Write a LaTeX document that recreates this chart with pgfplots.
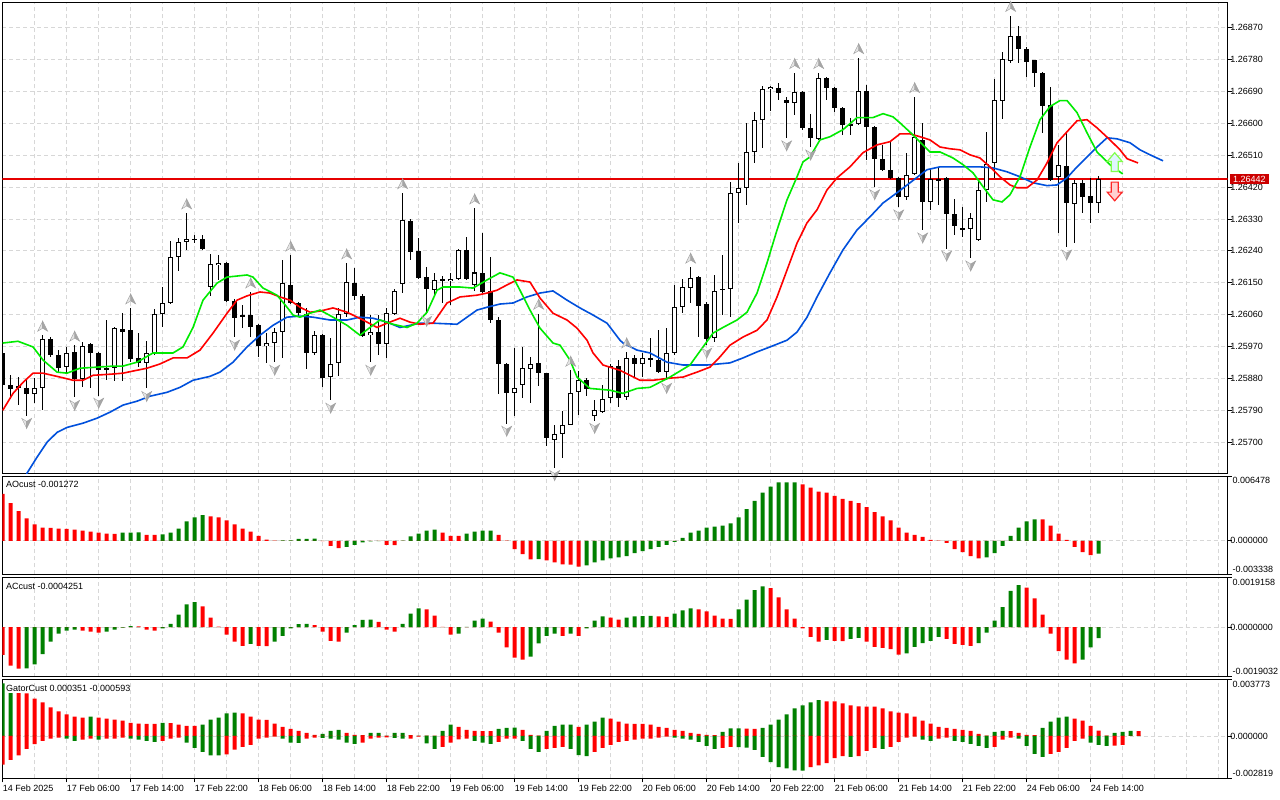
\documentclass[border=0pt]{standalone}
\usepackage{pgfplots}
\pgfplotsset{compat=1.18}
\usepackage{pgfplotstable}
\usepackage{fontspec}
\setmainfont{Liberation Sans}
\definecolor{jaw}{RGB}{0,80,220}
\definecolor{teeth}{RGB}{255,0,0}
\definecolor{lips}{RGB}{0,235,0}
\definecolor{hgreen}{RGB}{0,128,0}
\definecolor{hred}{RGB}{255,0,0}
\definecolor{pline}{RGB}{230,0,0}
\definecolor{gridc}{RGB}{215,215,215}
\definecolor{pricebox}{RGB}{204,0,0}
\newcommand{\tf}{\fontsize{9}{11}\selectfont}

\pgfdeclareplotmark{fup}{%
  \pgfsetlinewidth{0.4pt}\pgfsetstrokecolor{gray!75}%
  \pgfsetfillcolor{gray!20}%
  \pgfpathmoveto{\pgfqpoint{0pt}{14pt}}\pgfpathlineto{\pgfqpoint{-5pt}{4pt}}\pgfpathlineto{\pgfqpoint{0pt}{7pt}}\pgfpathclose\pgfusepath{fill,stroke}%
  \pgfsetfillcolor{gray!70}%
  \pgfpathmoveto{\pgfqpoint{0pt}{14pt}}\pgfpathlineto{\pgfqpoint{5pt}{4pt}}\pgfpathlineto{\pgfqpoint{0pt}{7pt}}\pgfpathclose\pgfusepath{fill,stroke}}
\pgfdeclareplotmark{fdn}{%
  \pgfsetlinewidth{0.4pt}\pgfsetstrokecolor{gray!75}%
  \pgfsetfillcolor{gray!20}%
  \pgfpathmoveto{\pgfqpoint{0pt}{-13pt}}\pgfpathlineto{\pgfqpoint{-5pt}{-3pt}}\pgfpathlineto{\pgfqpoint{0pt}{-6pt}}\pgfpathclose\pgfusepath{fill,stroke}%
  \pgfsetfillcolor{gray!70}%
  \pgfpathmoveto{\pgfqpoint{0pt}{-13pt}}\pgfpathlineto{\pgfqpoint{5pt}{-3pt}}\pgfpathlineto{\pgfqpoint{0pt}{-6pt}}\pgfpathclose\pgfusepath{fill,stroke}}
\pgfdeclareplotmark{bigup}{%
  \pgfsetlinewidth{1.2pt}\pgfsetstrokecolor{green!60!lime!70!white}%
  \pgfsetfillcolor{cyan!12}%
  \pgfpathmoveto{\pgfqpoint{0pt}{9.5pt}}\pgfpathlineto{\pgfqpoint{7.5pt}{0.8pt}}\pgfpathlineto{\pgfqpoint{3.5pt}{0.8pt}}%
  \pgfpathlineto{\pgfqpoint{3.5pt}{-9.2pt}}\pgfpathlineto{\pgfqpoint{-3.5pt}{-9.2pt}}\pgfpathlineto{\pgfqpoint{-3.5pt}{0.8pt}}%
  \pgfpathlineto{\pgfqpoint{-7.5pt}{0.8pt}}\pgfpathclose\pgfusepath{fill,stroke}}
\pgfdeclareplotmark{bigdn}{%
  \pgfsetlinewidth{1.2pt}\pgfsetstrokecolor{red!85}%
  \pgfsetfillcolor{red!18}%
  \pgfpathmoveto{\pgfqpoint{0pt}{-9.5pt}}\pgfpathlineto{\pgfqpoint{7.5pt}{-0.8pt}}\pgfpathlineto{\pgfqpoint{3.5pt}{-0.8pt}}%
  \pgfpathlineto{\pgfqpoint{3.5pt}{9.2pt}}\pgfpathlineto{\pgfqpoint{-3.5pt}{9.2pt}}\pgfpathlineto{\pgfqpoint{-3.5pt}{-0.8pt}}%
  \pgfpathlineto{\pgfqpoint{-7.5pt}{-0.8pt}}\pgfpathclose\pgfusepath{fill,stroke}}

\pgfplotstableread{
i o h l c
0 1.25952 1.25960 1.25852 1.25861
1 1.25861 1.25889 1.25824 1.25852
2 1.25860 1.25884 1.25805 1.25855
3 1.25855 1.25881 1.25776 1.25838
4 1.25838 1.25881 1.25810 1.25855
5 1.25855 1.26002 1.25790 1.25994
6 1.25994 1.25997 1.25943 1.25949
7 1.25946 1.25960 1.25898 1.25912
8 1.25912 1.25969 1.25895 1.25952
9 1.25954 1.25974 1.25827 1.25878
10 1.25881 1.25983 1.25855 1.25974
11 1.25977 1.25980 1.25855 1.25952
12 1.25952 1.25955 1.25833 1.25906
13 1.25912 1.26045 1.25875 1.25906
14 1.25909 1.26027 1.25875 1.26024
15 1.26022 1.26067 1.25875 1.26013
16 1.26016 1.26079 1.25926 1.25935
17 1.25938 1.26008 1.25912 1.25926
18 1.25926 1.25986 1.25852 1.25952
19 1.25952 1.26076 1.25946 1.26062
20 1.26062 1.26138 1.26027 1.26093
21 1.26093 1.26268 1.26090 1.26223
22 1.26223 1.26279 1.26186 1.26265
23 1.26265 1.26347 1.26243 1.26274
24 1.26273 1.26285 1.26262 1.26274
25 1.26274 1.26285 1.26243 1.26245
26 1.26138 1.26231 1.26115 1.26203
27 1.26200 1.26228 1.26158 1.26206
28 1.26206 1.26211 1.26096 1.26101
29 1.26101 1.26104 1.25997 1.26053
30 1.26059 1.26087 1.26022 1.26053
31 1.26059 1.26124 1.25997 1.26027
32 1.26030 1.26033 1.25940 1.25971
33 1.25971 1.26008 1.25926 1.25980
34 1.25980 1.26022 1.25926 1.26011
35 1.26011 1.26217 1.25940 1.26149
36 1.26144 1.26228 1.26090 1.26093
37 1.26093 1.26098 1.26059 1.26067
38 1.26064 1.26079 1.25909 1.25952
39 1.25952 1.26016 1.25946 1.26002
40 1.26002 1.26005 1.25855 1.25881
41 1.25884 1.25994 1.25819 1.25921
42 1.25924 1.26081 1.25889 1.26062
43 1.26062 1.26206 1.26053 1.26152
44 1.26149 1.26191 1.26101 1.26113
45 1.26115 1.26118 1.25997 1.26002
46 1.26002 1.26059 1.25926 1.26011
47 1.26011 1.26059 1.25946 1.25977
48 1.25977 1.26079 1.25938 1.26064
49 1.26064 1.26135 1.26062 1.26127
50 1.26147 1.26404 1.26121 1.26327
51 1.26324 1.26330 1.26214 1.26237
52 1.26240 1.26276 1.26160 1.26163
53 1.26169 1.26197 1.26064 1.26135
54 1.26132 1.26178 1.26115 1.26158
55 1.26161 1.26169 1.26093 1.26158
56 1.26155 1.26178 1.26087 1.26163
57 1.26161 1.26246 1.26158 1.26243
58 1.26243 1.26279 1.26158 1.26163
59 1.26144 1.26361 1.26129 1.26180
60 1.26178 1.26291 1.26121 1.26124
61 1.26127 1.26223 1.26036 1.26045
62 1.26045 1.26053 1.25838 1.25921
63 1.25921 1.25924 1.25754 1.25841
64 1.25841 1.25966 1.25776 1.25855
65 1.25861 1.25969 1.25827 1.25909
66 1.25909 1.25941 1.25813 1.25921
67 1.25924 1.26064 1.25861 1.25895
68 1.25895 1.25898 1.25691 1.25711
69 1.25708 1.25748 1.25629 1.25725
70 1.25725 1.25790 1.25657 1.25751
71 1.25751 1.25903 1.25748 1.25841
72 1.25841 1.25900 1.25776 1.25875
73 1.25878 1.25881 1.25833 1.25852
74 1.25776 1.25819 1.25762 1.25793
75 1.25785 1.25861 1.25782 1.25824
76 1.25827 1.25921 1.25810 1.25918
77 1.25918 1.25932 1.25799 1.25827
78 1.25827 1.25955 1.25819 1.25938
79 1.25938 1.25946 1.25884 1.25921
80 1.25921 1.25952 1.25884 1.25938
81 1.25938 1.25994 1.25912 1.25932
82 1.25932 1.26016 1.25895 1.25898
83 1.25898 1.26022 1.25875 1.25952
84 1.25952 1.26144 1.25949 1.26081
85 1.26081 1.26163 1.26067 1.26138
86 1.26138 1.26194 1.26093 1.26166
87 1.26166 1.26169 1.25997 1.26084
88 1.26093 1.26096 1.25974 1.25994
89 1.25994 1.26172 1.25983 1.26127
90 1.26132 1.26228 1.26059 1.26135
91 1.26132 1.26435 1.26053 1.26404
92 1.26404 1.26488 1.26319 1.26418
93 1.26418 1.26601 1.26370 1.26519
94 1.26519 1.26632 1.26488 1.26610
95 1.26610 1.26706 1.26531 1.26697
96 1.26697 1.26706 1.26635 1.26703
97 1.26700 1.26714 1.26666 1.26686
98 1.26666 1.26675 1.26559 1.26658
99 1.26658 1.26743 1.26624 1.26689
100 1.26689 1.26692 1.26582 1.26587
101 1.26587 1.26627 1.26533 1.26559
102 1.26556 1.26743 1.26553 1.26729
103 1.26729 1.26731 1.26666 1.26700
104 1.26700 1.26703 1.26632 1.26644
105 1.26644 1.26647 1.26567 1.26596
106 1.26599 1.26616 1.26567 1.26593
107 1.26599 1.26785 1.26596 1.26692
108 1.26692 1.26709 1.26497 1.26590
109 1.26590 1.26593 1.26421 1.26500
110 1.26500 1.26539 1.26466 1.26469
111 1.26469 1.26548 1.26443 1.26446
112 1.26446 1.26449 1.26364 1.26392
113 1.26392 1.26517 1.26384 1.26454
114 1.26457 1.26675 1.26454 1.26562
115 1.26553 1.26601 1.26299 1.26378
116 1.26378 1.26474 1.26356 1.26443
117 1.26443 1.26477 1.26370 1.26440
118 1.26446 1.26449 1.26248 1.26344
119 1.26344 1.26387 1.26285 1.26310
120 1.26305 1.26364 1.26279 1.26299
121 1.26302 1.26347 1.26220 1.26333
122 1.26271 1.26440 1.26268 1.26412
123 1.26412 1.26576 1.26378 1.26486
124 1.26488 1.26726 1.26446 1.26666
125 1.26663 1.26802 1.26613 1.26782
126 1.26777 1.26904 1.26771 1.26847
127 1.26847 1.26876 1.26771 1.26811
128 1.26811 1.26816 1.26731 1.26774
129 1.26777 1.26780 1.26703 1.26743
130 1.26743 1.26745 1.26573 1.26649
131 1.26652 1.26703 1.26437 1.26440
132 1.26449 1.26539 1.26290 1.26483
133 1.26480 1.26576 1.26251 1.26375
134 1.26375 1.26440 1.26262 1.26432
135 1.26432 1.26440 1.26347 1.26392
136 1.26395 1.26446 1.26319 1.26375
137 1.26375 1.26452 1.26347 1.26442
}\candles

\pgfplotstableread{
i v g
0 0.00470 0
1 0.00378 0
2 0.00297 0
3 0.00225 0
4 0.00164 0
5 0.00133 0
6 0.00131 0
7 0.00123 0
8 0.00121 0
9 0.00112 0
10 0.00102 0
11 0.00092 0
12 0.00082 0
13 0.00072 0
14 0.00071 0
15 0.00082 1
16 0.00083 1
17 0.00084 1
18 0.00061 0
19 0.00060 0
20 0.00065 1
21 0.00082 1
22 0.00123 1
23 0.00194 1
24 0.00235 1
25 0.00256 1
26 0.00245 0
27 0.00235 0
28 0.00204 0
29 0.00164 0
30 0.00123 0
31 0.00092 0
32 0.00051 0
33 0.00013 0
34 0.00003 0
35 0.00004 1
36 0.00005 1
37 0.00020 1
38 0.00021 1
39 0.00022 1
40 -0.00003 0
41 -0.00051 0
42 -0.00072 0
43 -0.00061 1
44 -0.00041 1
45 -0.00015 1
46 -0.00005 1
47 -0.00003 1
48 -0.00041 0
49 -0.00042 0
50 0.00003 1
51 0.00044 1
52 0.00072 1
53 0.00102 1
54 0.00112 1
55 0.00082 0
56 0.00051 0
57 0.00050 0
58 0.00072 1
59 0.00092 1
60 0.00102 1
61 0.00103 1
62 0.00061 0
63 0.00003 0
64 -0.00082 0
65 -0.00133 0
66 -0.00184 0
67 -0.00183 1
68 -0.00194 0
69 -0.00215 0
70 -0.00235 0
71 -0.00236 0
72 -0.00256 0
73 -0.00245 1
74 -0.00215 1
75 -0.00194 1
76 -0.00174 1
77 -0.00164 1
78 -0.00153 1
79 -0.00123 1
80 -0.00102 1
81 -0.00082 1
82 -0.00061 1
83 -0.00041 1
84 -0.00010 1
85 0.00031 1
86 0.00082 1
87 0.00102 1
88 0.00133 1
89 0.00143 1
90 0.00153 1
91 0.00174 1
92 0.00235 1
93 0.00317 1
94 0.00399 1
95 0.00481 1
96 0.00542 1
97 0.00583 1
98 0.00584 1
99 0.00585 1
100 0.00565 0
101 0.00532 0
102 0.00491 0
103 0.00481 0
104 0.00450 0
105 0.00419 0
106 0.00399 0
107 0.00378 0
108 0.00337 0
109 0.00286 0
110 0.00245 0
111 0.00204 0
112 0.00133 0
113 0.00082 0
114 0.00061 0
115 0.00041 0
116 0.00010 0
117 0.00003 0
118 -0.00020 0
119 -0.00082 0
120 -0.00112 0
121 -0.00153 0
122 -0.00174 0
123 -0.00164 1
124 -0.00123 1
125 -0.00051 1
126 0.00051 1
127 0.00133 1
128 0.00194 1
129 0.00215 1
130 0.00214 0
131 0.00153 0
132 0.00072 0
133 0.00010 0
134 -0.00061 0
135 -0.00112 0
136 -0.00143 0
137 -0.001272 1
}\aotab

\pgfplotstableread{
i v g
0 -0.00106 0
1 -0.00148 0
2 -0.00159 0
3 -0.00158 1
4 -0.00143 1
5 -0.00104 1
6 -0.00056 1
7 -0.00025 1
8 -0.00013 1
9 -0.00009 1
10 -0.00013 0
11 -0.00017 0
12 -0.00021 0
13 -0.00017 1
14 -0.00009 1
15 -0.00002 1
16 0.00004 1
17 0.00003 0
18 -0.00009 0
19 -0.00013 0
20 -0.00005 1
21 0.00013 1
22 0.00048 1
23 0.00088 1
24 0.00096 1
25 0.00080 0
26 0.00037 0
27 0.00002 0
28 -0.00029 0
29 -0.00056 0
30 -0.00072 0
31 -0.00064 1
32 -0.00072 0
33 -0.00073 0
34 -0.00056 1
35 -0.00033 1
36 -0.00005 1
37 0.00012 1
38 0.00013 1
39 0.00008 0
40 -0.00017 0
41 -0.00053 0
42 -0.00056 0
43 -0.00021 1
44 0.00008 1
45 0.00028 1
46 0.00029 1
47 0.00020 0
48 -0.00009 0
49 -0.00017 0
50 0.00013 1
51 0.00052 1
52 0.00072 1
53 0.00068 0
54 0.00044 0
55 0.00001 0
56 -0.00029 0
57 -0.00025 1
58 0.00001 1
59 0.00025 1
60 0.00033 1
61 0.00021 0
62 -0.00021 0
63 -0.00078 0
64 -0.00117 0
65 -0.00125 0
66 -0.00113 1
67 -0.00062 1
68 -0.00033 1
69 -0.00025 1
70 -0.00033 0
71 -0.00025 1
72 -0.00033 0
73 -0.00005 1
74 0.00025 1
75 0.00041 1
76 0.00037 0
77 0.00029 0
78 0.00037 1
79 0.00041 1
80 0.00042 1
81 0.00043 1
82 0.00041 0
83 0.00040 0
84 0.00052 1
85 0.00065 1
86 0.00072 1
87 0.00068 0
88 0.00061 0
89 0.00044 0
90 0.00033 0
91 0.00032 0
92 0.00068 1
93 0.00106 1
94 0.00142 1
95 0.00157 1
96 0.00150 0
97 0.00114 0
98 0.00068 0
99 0.00033 0
100 -0.00005 0
101 -0.00037 0
102 -0.00056 0
103 -0.00049 1
104 -0.00053 0
105 -0.00054 0
106 -0.00045 1
107 -0.00041 1
108 -0.00056 0
109 -0.00076 0
110 -0.00080 0
111 -0.00084 0
112 -0.00105 0
113 -0.00101 1
114 -0.00076 1
115 -0.00061 1
116 -0.00053 1
117 -0.00037 1
118 -0.00045 0
119 -0.00064 0
120 -0.00068 0
121 -0.00072 0
122 -0.00061 1
123 -0.00021 1
124 0.00025 1
125 0.00077 1
126 0.00139 1
127 0.00162 1
128 0.00152 0
129 0.00111 0
130 0.00048 0
131 -0.00025 0
132 -0.00092 0
133 -0.00125 0
134 -0.00139 0
135 -0.00125 1
136 -0.00078 1
137 -0.0004251 1
}\actab

\pgfplotstableread{
i up ug lo lg
0 0.00350 1 -0.00190 0
1 0.00285 1 -0.00159 0
2 0.00285 0 -0.00129 0
3 0.00284 0 -0.00086 0
4 0.00249 0 -0.00054 0
5 0.00224 0 -0.00032 0
6 0.00190 0 -0.00018 0
7 0.00163 0 -0.00011 0
8 0.00143 0 -0.00018 1
9 0.00129 0 -0.00032 1
10 0.00122 0 -0.00025 0
11 0.00129 1 -0.00018 0
12 0.00122 0 -0.00025 1
13 0.00116 0 -0.00018 0
14 0.00109 0 -0.00017 0
15 0.00102 0 -0.00011 0
16 0.00088 0 -0.00018 1
17 0.00082 0 -0.00025 1
18 0.00081 0 -0.00032 1
19 0.00080 0 -0.00039 1
20 0.00088 1 -0.00032 0
21 0.00086 0 -0.00018 0
22 0.00075 0 -0.00011 0
23 0.00068 0 -0.00045 1
24 0.00067 0 -0.00079 1
25 0.00075 1 -0.00106 1
26 0.00109 1 -0.00129 1
27 0.00122 1 -0.00130 1
28 0.00150 1 -0.00122 0
29 0.00156 1 -0.00091 0
30 0.00150 0 -0.00072 0
31 0.00129 0 -0.00059 0
32 0.00109 0 -0.00018 0
33 0.00107 0 -0.00011 0
34 0.00082 0 -0.00005 0
35 0.00061 0 -0.00018 1
36 0.00048 0 -0.00045 1
37 0.00034 0 -0.00046 1
38 0.00020 0 -0.00018 0
39 0.00007 0 -0.00011 0
40 0.00014 1 -0.00012 1
41 0.00034 1 -0.00018 1
42 0.00041 1 -0.00025 1
43 0.00020 0 -0.00045 1
44 0.00007 0 -0.00052 1
45 0.00006 0 -0.00045 0
46 0.00020 1 -0.00018 0
47 0.00021 1 -0.00011 0
48 0.00001 0 -0.00010 0
49 0.00020 1 -0.00012 1
50 0.00021 1 -0.00018 1
51 0.00005 0 -0.00017 0
52 0.00001 0 -0.00005 0
53 0.00003 1 -0.00050 1
54 0.00001 0 -0.00086 1
55 0.00034 1 -0.00072 0
56 0.00075 1 -0.00045 0
57 0.00061 0 -0.00023 0
58 0.00041 0 -0.00018 0
59 0.00034 0 -0.00032 1
60 0.00033 0 -0.00045 1
61 0.00032 0 -0.00052 1
62 0.00048 1 -0.00039 0
63 0.00054 1 -0.00018 0
64 0.00055 1 -0.00017 0
65 0.00041 0 -0.00032 1
66 0.00007 0 -0.00086 1
67 0.00003 0 -0.00106 1
68 0.00034 1 -0.00086 0
69 0.00068 1 -0.00079 0
70 0.00075 1 -0.00072 0
71 0.00076 1 -0.00086 1
72 0.00061 0 -0.00127 1
73 0.00075 1 -0.00134 1
74 0.00095 1 -0.00106 0
75 0.00122 1 -0.00079 0
76 0.00115 0 -0.00059 0
77 0.00095 0 -0.00039 0
78 0.00082 0 -0.00032 0
79 0.00081 0 -0.00025 0
80 0.00080 0 -0.00018 0
81 0.00075 0 -0.00017 0
82 0.00061 0 -0.00011 0
83 0.00054 0 -0.00005 0
84 0.00041 0 -0.00011 1
85 0.00034 0 -0.00018 1
86 0.00020 0 -0.00025 1
87 0.00014 0 -0.00039 1
88 0.00007 0 -0.00066 1
89 0.00006 0 -0.00086 1
90 0.00027 1 -0.00079 0
91 0.00050 1 -0.00072 0
92 0.00051 1 -0.00075 1
93 0.00049 0 -0.00077 1
94 0.00048 0 -0.00093 1
95 0.00054 1 -0.00140 1
96 0.00075 1 -0.00174 1
97 0.00109 1 -0.00208 1
98 0.00143 1 -0.00215 1
99 0.00183 1 -0.00229 1
100 0.00204 1 -0.00231 1
101 0.00224 1 -0.00208 0
102 0.00238 1 -0.00195 0
103 0.00231 0 -0.00181 0
104 0.00230 0 -0.00147 0
105 0.00217 0 -0.00134 0
106 0.00204 0 -0.00140 1
107 0.00197 0 -0.00134 0
108 0.00196 0 -0.00100 0
109 0.00195 0 -0.00079 0
110 0.00183 0 -0.00086 1
111 0.00163 0 -0.00072 0
112 0.00156 0 -0.00039 0
113 0.00150 0 -0.00011 0
114 0.00129 0 -0.00005 0
115 0.00102 0 -0.00025 1
116 0.00082 0 -0.00032 1
117 0.00061 0 -0.00018 0
118 0.00054 0 -0.00011 0
119 0.00048 0 -0.00032 1
120 0.00041 0 -0.00039 1
121 0.00034 0 -0.00052 1
122 0.00014 0 -0.00066 1
123 0.00002 0 -0.00079 1
124 0.00027 1 -0.00072 0
125 0.00034 1 -0.00025 0
126 0.00033 0 -0.00011 0
127 0.00020 0 -0.00018 1
128 0.00007 0 -0.00066 1
129 0.00005 0 -0.00120 1
130 0.00054 1 -0.00140 1
131 0.00095 1 -0.00120 0
132 0.00122 1 -0.00106 0
133 0.00129 1 -0.00079 0
134 0.00115 0 -0.00032 0
135 0.00102 0 -0.00018 0
136 0.00068 0 -0.00045 1
137 0.000351 0 -0.000593 1
138 0.00003 0 -0.00066 1
139 0.00020 1 -0.00065 0
140 0.00027 1 -0.00059 0
141 0.00034 1 0 0
142 0.00033 0 0 0
}\gatortab

\pgfplotstableread{
x y
-0.025 1.26442
40 1.26442
80 1.26442
120 1.26442
153.125 1.26442
}\pricetab

\pgfplotsset{
  panel/.style={
    scale only axis, width=1225.2pt,
    xmin=-0.025, xmax=153.125,
    axis line style={line width=0.8pt, black},
    xtick={4,8,...,152}, xticklabels={}, xtick style={draw=none},
    xmajorgrids,
    grid style={gridc, line width=0.8pt, dash pattern=on 4pt off 3pt},
    ytick pos=right, yticklabel pos=right, tick align=outside, major tick length=4pt,
    ytick style={black, line width=0.8pt},
    yticklabel style={font=\tf, inner sep=0pt, xshift=-1.5pt},
    scaled ticks=false,
    /pgf/number format/assume math mode=true,
    clip=true,
  },
  hist/.style={ybar, bar width=4pt, bar shift=0pt, draw=none, forget plot},
}

\begin{document}
\begin{tikzpicture}
\fill[white] (0,0) rectangle (1280pt,-800pt);
\useasboundingbox (0,0) rectangle (1280pt,-800pt);

% ---------------- main price panel ----------------
\begin{axis}[panel, at={(2.5pt,-2pt)}, anchor=north west, height=471.5pt,
  ymin=1.25612, ymax=1.26942, ymajorgrids,
  ytick={1.25700,1.25790,1.25880,1.25970,1.26060,1.26150,1.26240,1.26330,1.26420,1.26510,1.26600,1.26690,1.26780,1.26870},
  yticklabels={1.25700,1.25790,1.25880,1.25970,1.26060,1.26150,1.26240,1.26330,1.26420,1.26510,1.26600,1.26690,1.26780,1.26870},
  after end axis/.code={
    \node[fill=pricebox, text=white, font=\tf, inner xsep=3.5pt, inner ysep=1.8pt, anchor=west, xshift=1.6pt] at (axis cs:153.125,1.26442) {1.26442};
  }]
% current price line (behind the candles)
\addplot[pline, line width=1.6pt, forget plot] table[x=x, y=y] {\pricetab};
% wicks
\addplot[draw=none, mark=none, forget plot, error bars/.cd, y dir=both, y explicit, error mark=none,
  error bar style={draw=black, line width=1pt, solid}]
  table[x=i, y expr={(\thisrow{h}+\thisrow{l})/2}, y error expr={(\thisrow{h}-\thisrow{l})/2}] {\candles};
% bodies (outline / bearish fill)
\addplot[draw=none, mark=none, forget plot, error bars/.cd, y dir=both, y explicit, error mark=none,
  error bar style={draw=black, line width=5pt, solid}]
  table[x=i, y expr={(\thisrow{o}+\thisrow{c})/2}, y error expr={max(abs(\thisrow{c}-\thisrow{o})/2,0.0000142)}] {\candles};
% bullish interior
\addplot[draw=none, mark=none, forget plot, error bars/.cd, y dir=both, y explicit, error mark=none,
  error bar style={draw=white, line width=3pt, solid}]
  table[x=i, y expr={(\thisrow{o}+\thisrow{c})/2}, y error expr={max((\thisrow{c}-\thisrow{o})/2-0.0000282,0)}] {\candles};
% Alligator jaw
\addplot[jaw, line width=1.6pt, forget plot] coordinates {(2.16,1.25564)(3.04,1.25613)(4.29,1.25658)(5.54,1.25700)(6.79,1.25728)(8.04,1.25742)(10.04,1.25754)(11.79,1.25768)(13.41,1.25785)(15.04,1.25805)(16.79,1.25816)(18.41,1.25830)(20.54,1.25841)(22.16,1.25855)(23.79,1.25875)(25.91,1.25886)(27.16,1.25898)(28.79,1.25926)(30.54,1.25969)(32.16,1.26002)(33.79,1.26030)(35.54,1.26053)(37.16,1.26056)(38.79,1.26053)(40.91,1.26045)(43.04,1.26045)(44.66,1.26053)(46.29,1.26050)(48.04,1.26039)(49.66,1.26024)(52.16,1.26036)(53.79,1.26036)(56.79,1.26033)(58.04,1.26053)(59.29,1.26073)(60.54,1.26081)(62.16,1.26090)(63.79,1.26093)(65.54,1.26110)(67.16,1.26121)(68.79,1.26127)(70.54,1.26101)(72.16,1.26079)(73.79,1.26059)(75.54,1.26036)(77.16,1.25988)(77.54,1.25980)(79.29,1.25960)(80.91,1.25952)(83.04,1.25926)(85.04,1.25918)(88.04,1.25918)(90.91,1.25924)(92.54,1.25938)(94.29,1.25955)(95.91,1.25969)(98.04,1.25988)(99.29,1.26011)(100.54,1.26053)(101.79,1.26110)(103.41,1.26178)(105.04,1.26243)(106.79,1.26299)(108.41,1.26336)(110.04,1.26375)(111.79,1.26404)(113.41,1.26432)(115.54,1.26469)(117.16,1.26477)(119.29,1.26477)(122.16,1.26477)(123.79,1.26474)(125.54,1.26463)(127.16,1.26449)(128.79,1.26432)(130.54,1.26424)(131.79,1.26426)(133.04,1.26446)(134.29,1.26477)(135.54,1.26505)(136.79,1.26533)(138.04,1.26559)(139.29,1.26556)(140.91,1.26545)(142.16,1.26525)(143.41,1.26511)(145.04,1.26494)};
% Alligator teeth
\addplot[teeth, line width=1.6pt, forget plot] coordinates {(0,1.25790)(1.29,1.25838)(2.54,1.25869)(3.79,1.25895)(5.04,1.25895)(7.16,1.25884)(8.79,1.25875)(10.04,1.25875)(11.29,1.25889)(13.41,1.25892)(15.04,1.25895)(16.29,1.25901)(18.04,1.25909)(19.66,1.25921)(21.29,1.25938)(23.04,1.25938)(24.66,1.25960)(26.29,1.26008)(28.04,1.26064)(29.29,1.26101)(30.54,1.26113)(32.16,1.26124)(33.41,1.26121)(34.66,1.26110)(35.91,1.26101)(37.16,1.26081)(38.41,1.26067)(39.66,1.26070)(41.29,1.26079)(43.04,1.26067)(45.04,1.26045)(46.79,1.26024)(48.04,1.26036)(49.66,1.26050)(50.91,1.26039)(52.16,1.26033)(53.79,1.26036)(55.54,1.26093)(57.16,1.26110)(59.29,1.26115)(60.54,1.26121)(61.79,1.26129)(63.04,1.26144)(64.29,1.26158)(65.91,1.26152)(67.16,1.26107)(68.79,1.26064)(70.54,1.26045)(71.79,1.26022)(73.04,1.25988)(73.79,1.25952)(75.04,1.25918)(77.16,1.25903)(79.66,1.25875)(81.29,1.25875)(83.41,1.25881)(85.04,1.25884)(86.79,1.25898)(88.41,1.25912)(89.66,1.25941)(90.91,1.25974)(92.54,1.25997)(94.29,1.26016)(95.54,1.26045)(96.79,1.26110)(98.04,1.26186)(99.29,1.26262)(100.54,1.26319)(101.79,1.26356)(103.04,1.26412)(104.29,1.26446)(105.91,1.26477)(107.54,1.26517)(109.29,1.26539)(110.91,1.26548)(112.16,1.26570)(113.41,1.26570)(114.66,1.26562)(115.91,1.26553)(117.16,1.26533)(118.41,1.26528)(119.66,1.26525)(120.91,1.26511)(122.16,1.26502)(123.41,1.26477)(124.66,1.26449)(125.91,1.26426)(126.79,1.26418)(128.04,1.26418)(129.29,1.26440)(130.54,1.26488)(131.79,1.26545)(133.04,1.26576)(134.29,1.26607)(135.54,1.26610)(136.79,1.26587)(138.41,1.26553)(139.66,1.26525)(140.54,1.26500)(141.91,1.26488)};
% Alligator lips
\addplot[lips, line width=1.6pt, forget plot] coordinates {(0,1.25980)(1.91,1.25985)(3.79,1.25969)(5.04,1.25932)(6.79,1.25898)(8.04,1.25895)(9.66,1.25909)(11.79,1.25912)(13.79,1.25915)(15.04,1.25915)(16.79,1.25926)(18.79,1.25952)(21.29,1.25952)(22.54,1.25969)(23.79,1.26024)(25.04,1.26101)(26.79,1.26149)(28.04,1.26166)(30.54,1.26172)(31.29,1.26166)(32.54,1.26135)(34.29,1.26115)(35.54,1.26081)(36.29,1.26059)(37.16,1.26053)(38.41,1.26064)(39.66,1.26073)(41.29,1.26053)(43.04,1.26030)(44.66,1.26002)(45.91,1.26024)(47.16,1.26045)(48.79,1.26033)(50.54,1.26024)(51.79,1.26036)(53.04,1.26067)(54.29,1.26129)(55.04,1.26138)(57.16,1.26138)(58.79,1.26135)(60.54,1.26158)(62.16,1.26178)(63.79,1.26166)(64.66,1.26129)(65.91,1.26073)(67.16,1.26022)(68.79,1.25980)(69.66,1.25974)(70.91,1.25932)(71.79,1.25884)(73.41,1.25852)(75.91,1.25847)(77.54,1.25838)(79.29,1.25852)(80.91,1.25855)(83.41,1.25884)(85.91,1.25918)(87.54,1.25969)(88.79,1.26008)(90.04,1.26024)(91.79,1.26045)(93.04,1.26067)(94.29,1.26121)(95.54,1.26206)(96.79,1.26299)(98.04,1.26384)(99.29,1.26449)(100.04,1.26491)(100.91,1.26505)(102.16,1.26553)(103.41,1.26562)(105.04,1.26582)(106.79,1.26616)(108.79,1.26616)(110.04,1.26627)(111.29,1.26618)(112.16,1.26601)(113.79,1.26567)(115.91,1.26519)(117.16,1.26519)(118.79,1.26502)(120.04,1.26483)(121.29,1.26460)(122.54,1.26421)(123.79,1.26384)(124.91,1.26378)(125.91,1.26398)(127.16,1.26449)(128.41,1.26533)(129.66,1.26610)(130.91,1.26647)(132.16,1.26664)(133.04,1.26664)(134.29,1.26630)(135.54,1.26573)(136.79,1.26519)(138.41,1.26483)(140,1.26457)};
% fractals
\addplot[only marks, mark=fup, forget plot] coordinates {(5,1.26002)(9,1.25974)(16,1.26079)(23,1.26347)(31,1.26124)(36,1.26228)(43,1.26206)(50,1.26404)(59,1.26361)(67,1.26064)(71,1.25903)(78,1.25955)(86,1.26194)(99,1.26743)(102,1.26743)(107,1.26785)(114,1.26675)(126,1.26904)};
\addplot[only marks, mark=fdn, forget plot] coordinates {(3,1.25776)(9,1.25827)(12,1.25833)(18,1.25852)(29,1.25997)(34,1.25926)(41,1.25819)(46,1.25926)(53,1.26064)(63,1.25754)(69,1.25629)(74,1.25762)(83,1.25875)(88,1.25974)(98,1.26559)(101,1.26533)(109,1.26421)(112,1.26364)(115,1.26299)(118,1.26248)(121,1.26220)(133,1.26251)};
% signal arrows
\addplot[only marks, mark=bigup, forget plot] coordinates {(139,1.26490)};
\addplot[only marks, mark=bigdn, forget plot] coordinates {(139,1.26408)};
\end{axis}

% ---------------- AO panel ----------------
\begin{axis}[panel, at={(2.5pt,-476pt)}, anchor=north west, height=98.3pt,
  ymin=-0.003338, ymax=0.006478, ymajorgrids,
  ytick={0}, yticklabels={0.000000},
  extra y ticks={-0.003338,0.006478}, extra y tick labels={{},{}}, extra y tick style={grid=none},
  after end axis/.code={
    \node[anchor=north west, font=\tf, inner sep=0pt, xshift=3.5pt, yshift=-5.5pt] at (rel axis cs:0,1) {AOcust -0.001272};
    \node[anchor=north west, font=\tf, inner sep=0pt, xshift=4.8pt, yshift=-1.5pt] at (rel axis cs:1,1) {0.006478};
    \node[anchor=south west, font=\tf, inner sep=0pt, xshift=4.8pt, yshift=1.8pt] at (rel axis cs:1,0) {-0.003338};
  }]
\addplot[hist, fill=hgreen] table[x=i, y expr={\thisrow{g}==1 ? \thisrow{v} : 0}] {\aotab};
\addplot[hist, fill=hred] table[x=i, y expr={\thisrow{g}==0 ? \thisrow{v} : 0}] {\aotab};
\end{axis}

% ---------------- AC panel ----------------
\begin{axis}[panel, at={(2.5pt,-577.3pt)}, anchor=north west, height=99.4pt,
  ymin=-0.0019032, ymax=0.0019158, ymajorgrids,
  ytick={0}, yticklabels={0.0000000},
  extra y ticks={-0.0019032,0.0019158}, extra y tick labels={{},{}}, extra y tick style={grid=none},
  after end axis/.code={
    \node[anchor=north west, font=\tf, inner sep=0pt, xshift=3.5pt, yshift=-5.5pt] at (rel axis cs:0,1) {ACcust -0.0004251};
    \node[anchor=north west, font=\tf, inner sep=0pt, xshift=4.8pt, yshift=-1.5pt] at (rel axis cs:1,1) {0.0019158};
    \node[anchor=south west, font=\tf, inner sep=0pt, xshift=4.8pt, yshift=1.8pt] at (rel axis cs:1,0) {-0.0019032};
  }]
\addplot[hist, fill=hgreen] table[x=i, y expr={\thisrow{g}==1 ? \thisrow{v} : 0}] {\actab};
\addplot[hist, fill=hred] table[x=i, y expr={\thisrow{g}==0 ? \thisrow{v} : 0}] {\actab};
\end{axis}

% ---------------- Gator panel ----------------
\begin{axis}[panel, at={(2.5pt,-679.3pt)}, anchor=north west, height=99pt,
  ymin=-0.002819, ymax=0.003773, ymajorgrids,
  ytick={0}, yticklabels={0.000000},
  extra y ticks={-0.002819,0.003773}, extra y tick labels={{},{}}, extra y tick style={grid=none},
  xtick pos=bottom,
  extra x ticks={0,8,...,136},
  extra x tick labels={14 Feb 2025,17 Feb 06:00,17 Feb 14:00,17 Feb 22:00,18 Feb 06:00,18 Feb 14:00,18 Feb 22:00,19 Feb 06:00,19 Feb 14:00,19 Feb 22:00,20 Feb 06:00,20 Feb 14:00,20 Feb 22:00,21 Feb 06:00,21 Feb 14:00,21 Feb 22:00,24 Feb 06:00,24 Feb 14:00},
  extra x tick style={grid=none, xtick style={draw=black, line width=0.8pt},
    xticklabel style={font=\tf, anchor=north west, inner sep=0pt, yshift=-2.5pt}},
  after end axis/.code={
    \node[anchor=north west, font=\tf, inner sep=0pt, xshift=3.5pt, yshift=-5.5pt] at (rel axis cs:0,1) {GatorCust 0.000351 -0.000593};
    \node[anchor=north west, font=\tf, inner sep=0pt, xshift=4.8pt, yshift=-1.5pt] at (rel axis cs:1,1) {0.003773};
    \node[anchor=south west, font=\tf, inner sep=0pt, xshift=4.8pt, yshift=1.8pt] at (rel axis cs:1,0) {-0.002819};
  }]
\addplot[hist, fill=hgreen] table[x=i, y expr={\thisrow{ug}==1 ? \thisrow{up} : 0}] {\gatortab};
\addplot[hist, fill=hred] table[x=i, y expr={\thisrow{ug}==0 ? \thisrow{up} : 0}] {\gatortab};
\addplot[hist, fill=hgreen] table[x=i, y expr={\thisrow{lg}==1 ? \thisrow{lo} : 0}] {\gatortab};
\addplot[hist, fill=hred] table[x=i, y expr={\thisrow{lg}==0 ? \thisrow{lo} : 0}] {\gatortab};
\end{axis}
\end{tikzpicture}
\end{document}
